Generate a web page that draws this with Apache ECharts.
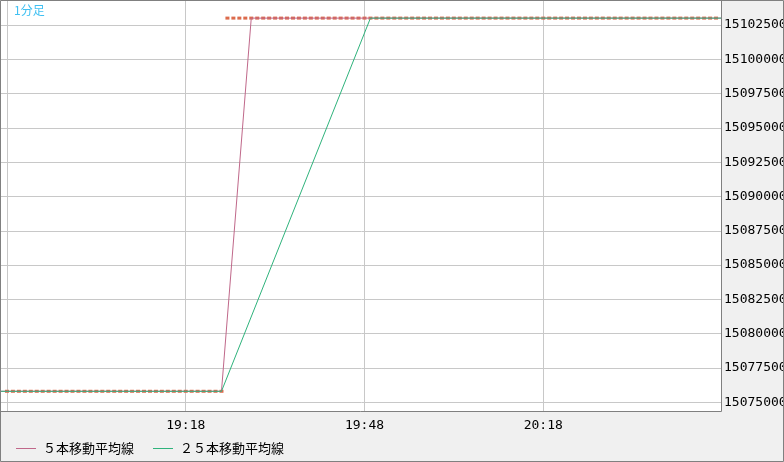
<!DOCTYPE html>
<html>
<head>
<meta charset="utf-8">
<script src="https://cdn.jsdelivr.net/npm/echarts@6/dist/echarts.min.js"></script>
<style>
	html, body { margin: 0; padding: 0; background: #f0f0f0; }
	#chart { width: 784px; height: 462px; }
</style>
</head>
<body>
<div id="chart"></div>
<script>
// 1分足 18:48 - 20:47, 終値（ローソクは全部同値）
var startTime = '18:47'; // 左端（ローソク無し）
var slotCount = 122;     // 18:47 .. 20:48
var closes = [
	15075800, 15075800, 15075800, 15075800, 15075800, 15075800, 15075800, 15075800, 15075800, 15075800,
	15075800, 15075800, 15075800, 15075800, 15075800, 15075800, 15075800, 15075800, 15075800, 15075800,
	15075800, 15075800, 15075800, 15075800, 15075800, 15075800, 15075800, 15075800, 15075800, 15075800,
	15075800, 15075800, 15075800, 15075800, 15075800, 15075800, 15075800, 15103000, 15103000, 15103000,
	15103000, 15103000, 15103000, 15103000, 15103000, 15103000, 15103000, 15103000, 15103000, 15103000,
	15103000, 15103000, 15103000, 15103000, 15103000, 15103000, 15103000, 15103000, 15103000, 15103000,
	15103000, 15103000, 15103000, 15103000, 15103000, 15103000, 15103000, 15103000, 15103000, 15103000,
	15103000, 15103000, 15103000, 15103000, 15103000, 15103000, 15103000, 15103000, 15103000, 15103000,
	15103000, 15103000, 15103000, 15103000, 15103000, 15103000, 15103000, 15103000, 15103000, 15103000,
	15103000, 15103000, 15103000, 15103000, 15103000, 15103000, 15103000, 15103000, 15103000, 15103000,
	15103000, 15103000, 15103000, 15103000, 15103000, 15103000, 15103000, 15103000, 15103000, 15103000,
	15103000, 15103000, 15103000, 15103000, 15103000, 15103000, 15103000, 15103000, 15103000, 15103000
];
// 移動平均線（折れ点だけ）
var ma5Points = [['18:47', 15075800], ['19:24', 15075800], ['19:29', 15103000], ['20:48', 15103000]];
var ma25Points = [['18:47', 15075800], ['19:24', 15075800], ['19:49', 15103000], ['20:48', 15103000]];
var yTicks = [15075000, 15077500, 15080000, 15082500, 15085000, 15087500, 15090000,
	15092500, 15095000, 15097500, 15100000, 15102500];
var xLabels = ['19:18', '19:48', '20:18'];
var xGridTimes = ['18:48', '19:18', '19:48', '20:18'];
var seriesNames = ['５本移動平均線', '２５本移動平均線'];

var colorCandle = '#dc6b4c';
var colorMa5 = '#c0688a';
var colorMa25 = '#2fb37c';

// 時刻ラベル
var times = [];
var hh = parseInt(startTime.split(':')[0]), mm = parseInt(startTime.split(':')[1]);
for (var i = 0; i < slotCount; i++) {
	times.push(hh + ':' + (mm < 10 ? '0' + mm : mm));
	mm++;
	if (mm == 60) { mm = 0; hh++; }
}
var candleData = [];
for (var i = 0; i < closes.length; i++) {
	candleData.push([times[i + 1], closes[i]]);
}

function drawCandle(params, api) {
	var p = api.coord([api.value(0), api.value(1)]);
	return {
		type: 'rect',
		shape: { x: p[0] - 2, y: p[1] - 1.5, width: 4, height: 3 },
		style: { fill: colorCandle }
	};
}

var myChart = echarts.init(document.getElementById('chart'));
var option = {
	animation: false,
	backgroundColor: '#f0f0f0',
	grid: {
		left: 1, top: 0, width: 721, height: 412,
		outerBoundsMode: 'none',
		containLabel: false,
		show: true, backgroundColor: '#ffffff', borderWidth: 0
	},
	xAxis: {
		type: 'category',
		data: times,
		boundaryGap: false,
		axisLine: { show: false },
		axisTick: { show: false },
		axisLabel: {
			interval: function (idx, val) { return xLabels.indexOf(val) >= 0; },
			margin: 7,
			color: '#000',
			fontFamily: 'DejaVu Sans Mono',
			fontSize: 13
		},
		splitLine: {
			show: true,
			interval: function (idx, val) { return xGridTimes.indexOf(val) >= 0; },
			lineStyle: { color: '#c8c8c8', width: 1 }
		}
	},
	yAxis: {
		type: 'value',
		position: 'right',
		min: 15074290,
		max: 15104320,
		axisLine: { show: false },
		axisTick: { show: false, customValues: yTicks },
		axisLabel: {
			customValues: yTicks,
			formatter: function (v) { return String(v); },
			margin: 2,
			color: '#000',
			fontFamily: 'DejaVu Sans Mono',
			fontSize: 13
		},
		splitLine: { show: true, lineStyle: { color: '#c8c8c8', width: 1 } }
	},
	legend: {
		data: [
			{ name: seriesNames[0], icon: 'path://M0,0H20V1H0Z', itemStyle: { color: colorMa5, opacity: 1 }, lineStyle: { color: colorMa5, width: 0 } },
			{ name: seriesNames[1], icon: 'path://M0,0H20V1H0Z', itemStyle: { color: colorMa25, opacity: 1 }, lineStyle: { color: colorMa25, width: 0 } }
		],
		left: 11,
		top: 437,
		itemWidth: 20,
		itemHeight: 1,
		itemGap: 19,
		itemStyle: { borderWidth: 0 },
		textStyle: {
			color: '#000',
			fontFamily: 'Noto Sans CJK JP',
			fontSize: 13,
			padding: [0, 0, 0, 2]
		}
	},
	series: [
		{
			name: '1分足',
			type: 'custom',
			renderItem: drawCandle,
			data: candleData,
			encode: { x: 0, y: 1 },
			z: 1
		},
		{
			name: seriesNames[0],
			type: 'line',
			data: ma5Points,
			showSymbol: false,
			lineStyle: { color: colorMa5, width: 1 },
			itemStyle: { color: colorMa5 },
			z: 2
		},
		{
			name: seriesNames[1],
			type: 'line',
			data: ma25Points,
			showSymbol: false,
			lineStyle: { color: colorMa25, width: 1 },
			itemStyle: { color: colorMa25 },
			z: 3
		}
	],
	graphic: [
		{
			type: 'text', left: 14, top: 4, z: 10,
			style: { text: '1分足', fill: '#40c0f2', font: '12px "Noto Sans CJK JP"' }
		},
		{
			type: 'polyline', z: 10, silent: true,
			shape: { points: [[721.5, 0], [721.5, 411.5], [0, 411.5]] },
			style: { stroke: '#808080', lineWidth: 1, fill: null }
		},
		{
			type: 'rect', z: 10, silent: true,
			shape: { x: 0.5, y: 0.5, width: 783, height: 461 },
			style: { stroke: '#808080', lineWidth: 1, fill: null }
		}
	]
};
myChart.setOption(option);
</script>
</body>
</html>
